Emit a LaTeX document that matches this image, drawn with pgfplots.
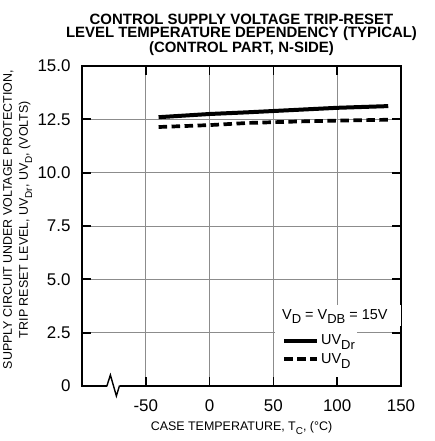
\documentclass[border=0pt]{standalone}
\usepackage{fontspec}
\setmainfont{Liberation Sans}
\usepackage{pgfplots}
\pgfplotsset{compat=1.18}
\newcommand\sub[1]{\raisebox{-0.35em}{\scalebox{0.8}{#1}}}
\newcommand\lsub[1]{\raisebox{-0.33em}{\scalebox{0.9}{#1}}}

\begin{document}
\begin{tikzpicture}
\begin{axis}[
  name=ax,
  scale only axis, width=319bp, height=320bp,
  clip=false,
  xmin=-100, xmax=150, ymin=0, ymax=15,
  xtick={-50,0,50,100,150}, xticklabels={-50,0,50,100,150},
  ytick={0,2.5,5,7.5,10,12.5,15}, yticklabels={0,2.5,5.0,7.5,10.0,12.5,15.0},
  minor tick num=0,
  tick label style={font=\fontsize{17}{17}\selectfont},
  xticklabel style={yshift=-10bp},
  yticklabel style={xshift=-8bp},
  grid=major, major grid style={gray!90, line width=0.8bp},
  tick align=inside, major tick length=9bp,
  every tick/.style={black, line width=1.7bp},
  axis line style={line width=2bp, solid},
  xlabel={CASE TEMPERATURE, T\sub{C}, (°C)},
  xlabel style={font=\fontsize{12.5}{13}\selectfont, yshift=-3bp},
  ylabel={SUPPLY CIRCUIT UNDER VOLTAGE PROTECTION,\\TRIP RESET LEVEL, UV\sub{Dr}, UV\sub{D}, (VOLTS)},
  ylabel style={at={(ticklabel cs:0.52)}, font=\fontsize{12.5}{16}\selectfont, align=center, yshift=-1.5bp},
  title={CONTROL SUPPLY VOLTAGE TRIP-RESET\\LEVEL TEMPERATURE DEPENDENCY (TYPICAL)\\(CONTROL PART, N-SIDE)},
  title style={at={(0.5,1)}, anchor=south, inner sep=0pt, yshift=4bp,
    font=\bfseries\fontsize{15}{13.5}\selectfont, align=center},
  legend style={at={(axis cs:56.7,2.5)}, anchor=north west, fill=none, draw=none,
    inner sep=0pt, font=\fontsize{14.5}{14.5}\selectfont, row sep=3bp,
    nodes={inner sep=2bp, fill=none}},
  legend cell align=left,
  legend image code/.code={\draw[#1] (0bp,0bp) -- (33bp,0bp);},
]
% white label background
\fill[white] (axis cs:51,2.81) rectangle (rel axis cs:1,0.2533);
\fill[white] (axis cs:51,0.42) rectangle (axis cs:115.5,2.82);
\addplot[black, line width=4bp] coordinates {
  (-40,12.60) (0,12.75) (30,12.83) (70,12.95) (100,13.04) (140,13.12)
};
\addlegendentry{UV\lsub{Dr}}
\addplot[black, line width=3.7bp, dash pattern=on 8.5bp off 4.5bp] coordinates {
  (-40,12.14) (0,12.23) (30,12.33) (70,12.40) (100,12.44) (140,12.48)
};
\addlegendentry{UV\lsub{D}}
\node[anchor=base west, inner sep=0pt, font=\fontsize{14.5}{14.5}\selectfont]
  at (axis cs:56.7,3.14) {V\lsub{D} = V\lsub{DB} = 15V};
% axis break
\draw[white, line width=3bp] (axis cs:-80.5,0) -- (axis cs:-70.5,0);
\draw[black, line width=1.4bp, line join=miter]
  (axis cs:-82,0) -- (axis cs:-80.5,0) -- ++(3.5bp,11bp) -- ++(6bp,-21bp) -- ++(3bp,10bp) -- (axis cs:-69,0);
\end{axis}
\pgfresetboundingbox
\path ([shift={(-82bp,-55bp)}]ax.south west) rectangle ([shift={(34bp,66bp)}]ax.north east);
\end{tikzpicture}
\end{document}
